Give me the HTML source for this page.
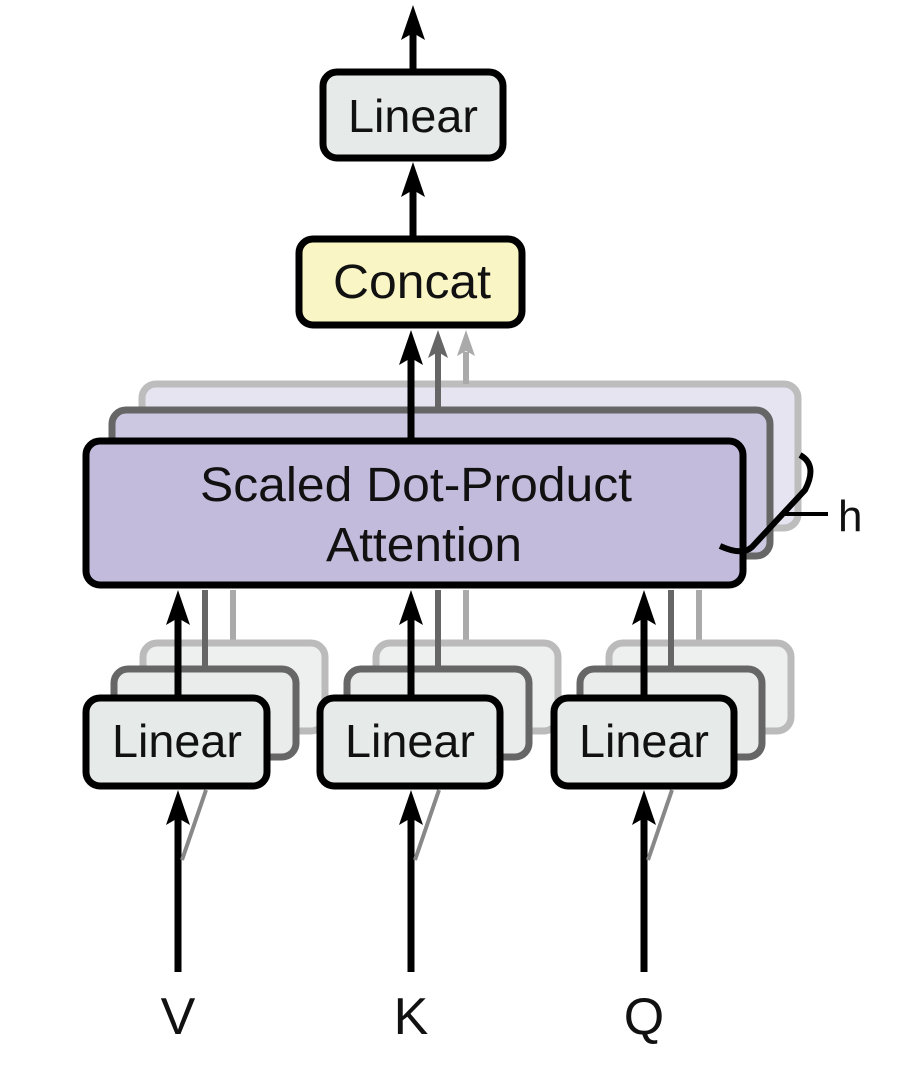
<!DOCTYPE html>
<html><head><meta charset="utf-8"><style>
html,body{margin:0;padding:0;background:#fff;width:908px;height:1068px;overflow:hidden}
svg text{font-family:"Liberation Sans",sans-serif;fill:#111}
</style></head><body>
<svg width="908" height="1068" viewBox="0 0 908 1068" xmlns="http://www.w3.org/2000/svg">
<!-- top arrow -->
<line x1="413" y1="70" x2="413" y2="30" stroke="#000" stroke-width="7"/>
<polygon points="413,5 401,40 413,33 425,40" fill="#000"/>
<!-- top linear -->
<rect x="323" y="72" width="180" height="86" rx="14" fill="#e6ebe9" stroke="#000" stroke-width="7"/>
<text x="413" y="132" font-size="46" text-anchor="middle" textLength="130" lengthAdjust="spacingAndGlyphs">Linear</text>
<!-- concat to linear -->
<line x1="413" y1="237" x2="413" y2="185" stroke="#000" stroke-width="7"/>
<polygon points="413,162 401,197 413,190 425,197" fill="#000"/>
<!-- concat -->
<rect x="299" y="239" width="223" height="86" rx="14" fill="#faf5c5" stroke="#000" stroke-width="7"/>
<text x="412" y="298" font-size="48" text-anchor="middle" textLength="158" lengthAdjust="spacingAndGlyphs">Concat</text>
<!-- back attention layers -->
<rect x="142" y="384" width="656" height="144" rx="14" fill="#e6e4f1" stroke="#bdbdbd" stroke-width="7"/>
<line x1="466" y1="384" x2="466" y2="352" stroke="#aaa" stroke-width="6"/>
<polygon points="466,330 457,356 466,351 475,356" fill="#aaa"/>
<rect x="112" y="410" width="658" height="146" rx="14" fill="#cdc8e1" stroke="#666" stroke-width="7"/>
<line x1="438" y1="410" x2="438" y2="352" stroke="#666" stroke-width="6"/>
<polygon points="438,330 428,358 438,352 448,358" fill="#666"/>
<!-- front attention -->
<rect x="86" y="441" width="657" height="144" rx="14" fill="#c3bbdc" stroke="#000" stroke-width="7"/>
<line x1="411" y1="441" x2="411" y2="352" stroke="#000" stroke-width="7"/>
<polygon points="411,330 399,365 411,358 423,365" fill="#000"/>
<text x="416" y="501" font-size="48" text-anchor="middle" textLength="432" lengthAdjust="spacingAndGlyphs">Scaled Dot-Product</text>
<text x="424" y="561" font-size="48" text-anchor="middle" textLength="196" lengthAdjust="spacingAndGlyphs">Attention</text>
<!-- brace -->
<path d="M800 455 Q818 465 805 490 L752 547 Q742 556 720 546" fill="none" stroke="#000" stroke-width="6"/>
<line x1="785" y1="514" x2="828" y2="514" stroke="#000" stroke-width="4"/>
<text x="838" y="531" font-size="44">h</text>

<!-- V -->
<g>
<line x1="233" y1="642" x2="233" y2="590" stroke="#aaa" stroke-width="6"/>
<rect x="143" y="643" width="182" height="88" rx="14" fill="#eef0ef" stroke="#bbb" stroke-width="7"/>
<line x1="205" y1="668" x2="205" y2="590" stroke="#666" stroke-width="6"/>
<rect x="114" y="669" width="182" height="88" rx="14" fill="#e9ecea" stroke="#666" stroke-width="7"/>
<line x1="178" y1="697" x2="178" y2="615" stroke="#000" stroke-width="7"/>
<polygon points="178,590 166,625 178,618 190,625" fill="#000"/>
<rect x="86" y="698" width="181" height="88" rx="14" fill="#e6ebe9" stroke="#000" stroke-width="7"/>
<text x="177" y="757" font-size="46" text-anchor="middle" textLength="130" lengthAdjust="spacingAndGlyphs">Linear</text>
<line x1="178" y1="972" x2="178" y2="815" stroke="#000" stroke-width="7"/>
<line x1="182" y1="860" x2="206" y2="790" stroke="#888" stroke-width="4"/>
<polygon points="178,790 166,825 178,818 190,825" fill="#000"/>
<text x="178" y="1034" font-size="52" text-anchor="middle">V</text>
</g>
<!-- K -->
<g>
<line x1="466" y1="642" x2="466" y2="590" stroke="#aaa" stroke-width="6"/>
<rect x="376" y="643" width="182" height="88" rx="14" fill="#eef0ef" stroke="#bbb" stroke-width="7"/>
<line x1="438" y1="668" x2="438" y2="590" stroke="#666" stroke-width="6"/>
<rect x="347" y="669" width="182" height="88" rx="14" fill="#e9ecea" stroke="#666" stroke-width="7"/>
<line x1="411" y1="697" x2="411" y2="615" stroke="#000" stroke-width="7"/>
<polygon points="411,590 399,625 411,618 423,625" fill="#000"/>
<rect x="320" y="698" width="180" height="88" rx="14" fill="#e6ebe9" stroke="#000" stroke-width="7"/>
<text x="410" y="757" font-size="46" text-anchor="middle" textLength="130" lengthAdjust="spacingAndGlyphs">Linear</text>
<line x1="411" y1="972" x2="411" y2="815" stroke="#000" stroke-width="7"/>
<line x1="415" y1="860" x2="439" y2="790" stroke="#888" stroke-width="4"/>
<polygon points="411,790 399,825 411,818 423,825" fill="#000"/>
<text x="411" y="1034" font-size="52" text-anchor="middle">K</text>
</g>
<!-- Q -->
<g>
<line x1="699" y1="642" x2="699" y2="590" stroke="#aaa" stroke-width="6"/>
<rect x="609" y="643" width="182" height="88" rx="14" fill="#eef0ef" stroke="#bbb" stroke-width="7"/>
<line x1="671" y1="668" x2="671" y2="590" stroke="#666" stroke-width="6"/>
<rect x="580" y="669" width="182" height="88" rx="14" fill="#e9ecea" stroke="#666" stroke-width="7"/>
<line x1="644" y1="697" x2="644" y2="615" stroke="#000" stroke-width="7"/>
<polygon points="644,590 632,625 644,618 656,625" fill="#000"/>
<rect x="554" y="698" width="180" height="88" rx="14" fill="#e6ebe9" stroke="#000" stroke-width="7"/>
<text x="644" y="757" font-size="46" text-anchor="middle" textLength="130" lengthAdjust="spacingAndGlyphs">Linear</text>
<line x1="644" y1="972" x2="644" y2="815" stroke="#000" stroke-width="7"/>
<line x1="648" y1="860" x2="672" y2="790" stroke="#888" stroke-width="4"/>
<polygon points="644,790 632,825 644,818 656,825" fill="#000"/>
<text x="644" y="1034" font-size="52" text-anchor="middle">Q</text>
</g>
</svg>
</body></html>
